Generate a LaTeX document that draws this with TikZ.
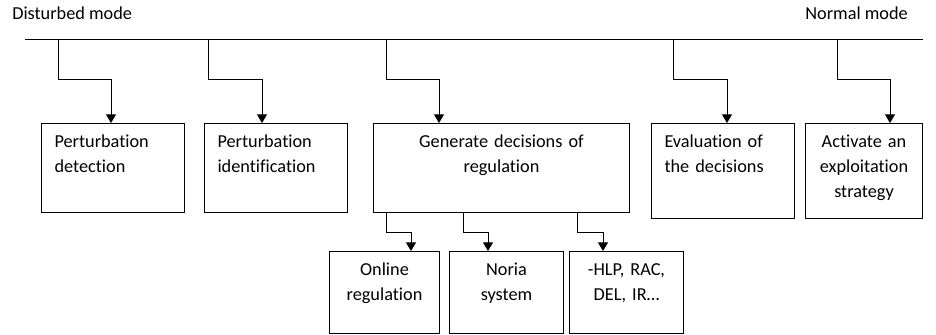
\documentclass[tikz,border=0pt]{standalone}
\usepackage{fontspec}
\setmainfont{Carlito}[Ligatures=NoCommon]
\usetikzlibrary{arrows.meta, positioning, calc}

\begin{document}
\begin{tikzpicture}[
        x=0.75pt, y=-0.75pt,
        every node/.style={font=\fontsize{13.7}{18.75}\selectfont},
        box/.style={rectangle, draw, anchor=north west, line width=0.75pt, inner xsep=9.75pt, inner ysep=0pt, text height=18pt},
        line/.style={draw, line width=0.75pt, -{Triangle[width=7.5pt, length=6.5pt]}}
    ]
        \useasboundingbox (0,0) rectangle (936,335);

        % modes and time line
        \node [anchor=base west, inner sep=0pt] (disturbed) at (12,19.5) {Disturbed mode};
        \node [anchor=base east, inner sep=0pt] (normal) at (908,19.5) {Normal mode};
        \coordinate (axisL) at (25,40);
        \coordinate (axisR) at (923,40);
        \draw [line width=0.75pt] (axisL) -- (axisR);

        % main steps
        \node [box, text width=87.75pt, text depth=48.75pt, align=left] (detect) at (41,123) {Perturbation\\detection};
        \node [box, text width=87.75pt, text depth=48.75pt, align=left] (ident) at (204,123) {Perturbation\\identification};
        \node [box, text width=172.5pt, text depth=48.75pt, align=center] (gen) at (373,123) {Generate decisions of\\regulation};
        \node [box, text width=87.75pt, text depth=53.25pt, align=left] (eval) at (651,123) {Evaluation of\\the decisions};
        \node [box, text width=68.25pt, text depth=53.25pt, align=center] (activ) at (805,123) {Activate an\\exploitation\\strategy};

        % regulation tools
        \node [box, text width=63pt, text depth=43.5pt, align=center] (online) at (329,251) {Online\\regulation};
        \node [box, text width=66pt, text depth=43.5pt, align=center] (noria) at (449,251) {Noria\\system};
        \node [box, text width=66pt, text depth=43.5pt, align=center] (hlp) at (569,251) {-HLP, RAC,\\DEL, IR…};

        \coordinate (c1) at (58,40);
        \coordinate (c2) at (208,40);
        \coordinate (c3) at (386,40);
        \coordinate (c4) at (673,40);
        \coordinate (c5) at (837,40);

        \path [line] (c1) -- ++(0,40) -| ($(detect.north west)+(70,0)$);
        \path [line] (c2) -- ++(0,40) -| ($(ident.north west)+(58,0)$);
        \path [line] (c3) -- ++(0,40) -| ($(gen.north west)+(66,0)$);
        \path [line] (c4) -- ++(0,40) -| ($(eval.north west)+(76,0)$);
        \path [line] (c5) -- ++(0,40) -| ($(activ.north west)+(85,0)$);

        \path [line] ($(gen.south west)+(13,0)$) -- ++(0,19) -| ($(online.north west)+(82,0)$);
        \path [line] ($(gen.south west)+(90,0)$) -- ++(0,19) -| ($(noria.north west)+(39,0)$);
        \path [line] ($(gen.south west)+(204,0)$) -- ++(0,19) -| ($(hlp.north west)+(34,0)$);
    \end{tikzpicture}
\end{document}
